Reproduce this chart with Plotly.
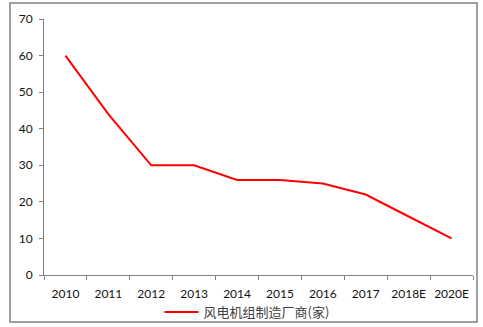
import plotly.graph_objects as go

years = ["2010", "2011", "2012", "2013", "2014", "2015", "2016", "2017", "2018E", "2020E"]
makers = [60, 44, 30, 30, 26, 26, 25, 22, 16, 10]
series_name = "风电机组制造厂商(家)"
y_ticks = [0, 10, 20, 30, 40, 50, 60, 70]

W, H = 483, 327
L, R, T, B = 44, 10, 19, 52
pw, ph = W - L - R, H - T - B

def px_x(x):
    return (x - L) / pw

def px_y(y):
    return (H - B - y) / ph

fig = go.Figure()
fig.add_trace(go.Scatter(
    x=years, y=makers, mode="lines", name=series_name,
    line=dict(color="#FF0000", width=2),
))

tick_font = dict(family="Lato, Open Sans, sans-serif", size=12, color="#111111")

fig.update_layout(
    width=W, height=H,
    margin=dict(l=L, r=R, t=T, b=B, autoexpand=False),
    paper_bgcolor="white", plot_bgcolor="white",
    showlegend=True,
    legend=dict(
        orientation="h", x=px_x(247), xanchor="center",
        y=px_y(312), yanchor="middle",
        font=dict(family="Noto Sans CJK SC", size=13, color="#404040"),
        bgcolor="rgba(0,0,0,0)", itemwidth=34,
    ),
    xaxis=dict(
        type="category", showgrid=False, showline=True, linecolor="#7f7f7f", linewidth=1,
        ticks="outside", tickson="boundaries", ticklen=4, tickcolor="#7f7f7f",
        tickfont=tick_font, range=[-0.5, 9.5], fixedrange=True,
        ticklabelstandoff=8, tickangle=0,
    ),
    yaxis=dict(
        range=[0, 70], tickvals=y_ticks, showgrid=False, zeroline=False,
        showline=True, linecolor="#7f7f7f", linewidth=1,
        ticks="outside", ticklen=4, tickcolor="#7f7f7f",
        tickfont=tick_font, ticklabelstandoff=4,
    ),
    shapes=[dict(
        type="rect", xref="paper", yref="paper",
        x0=px_x(10), x1=px_x(477), y0=px_y(322), y1=px_y(3),
        line=dict(color="#808080", width=1.5), fillcolor="rgba(0,0,0,0)",
    )],
)

fig.write_html("out.html")
